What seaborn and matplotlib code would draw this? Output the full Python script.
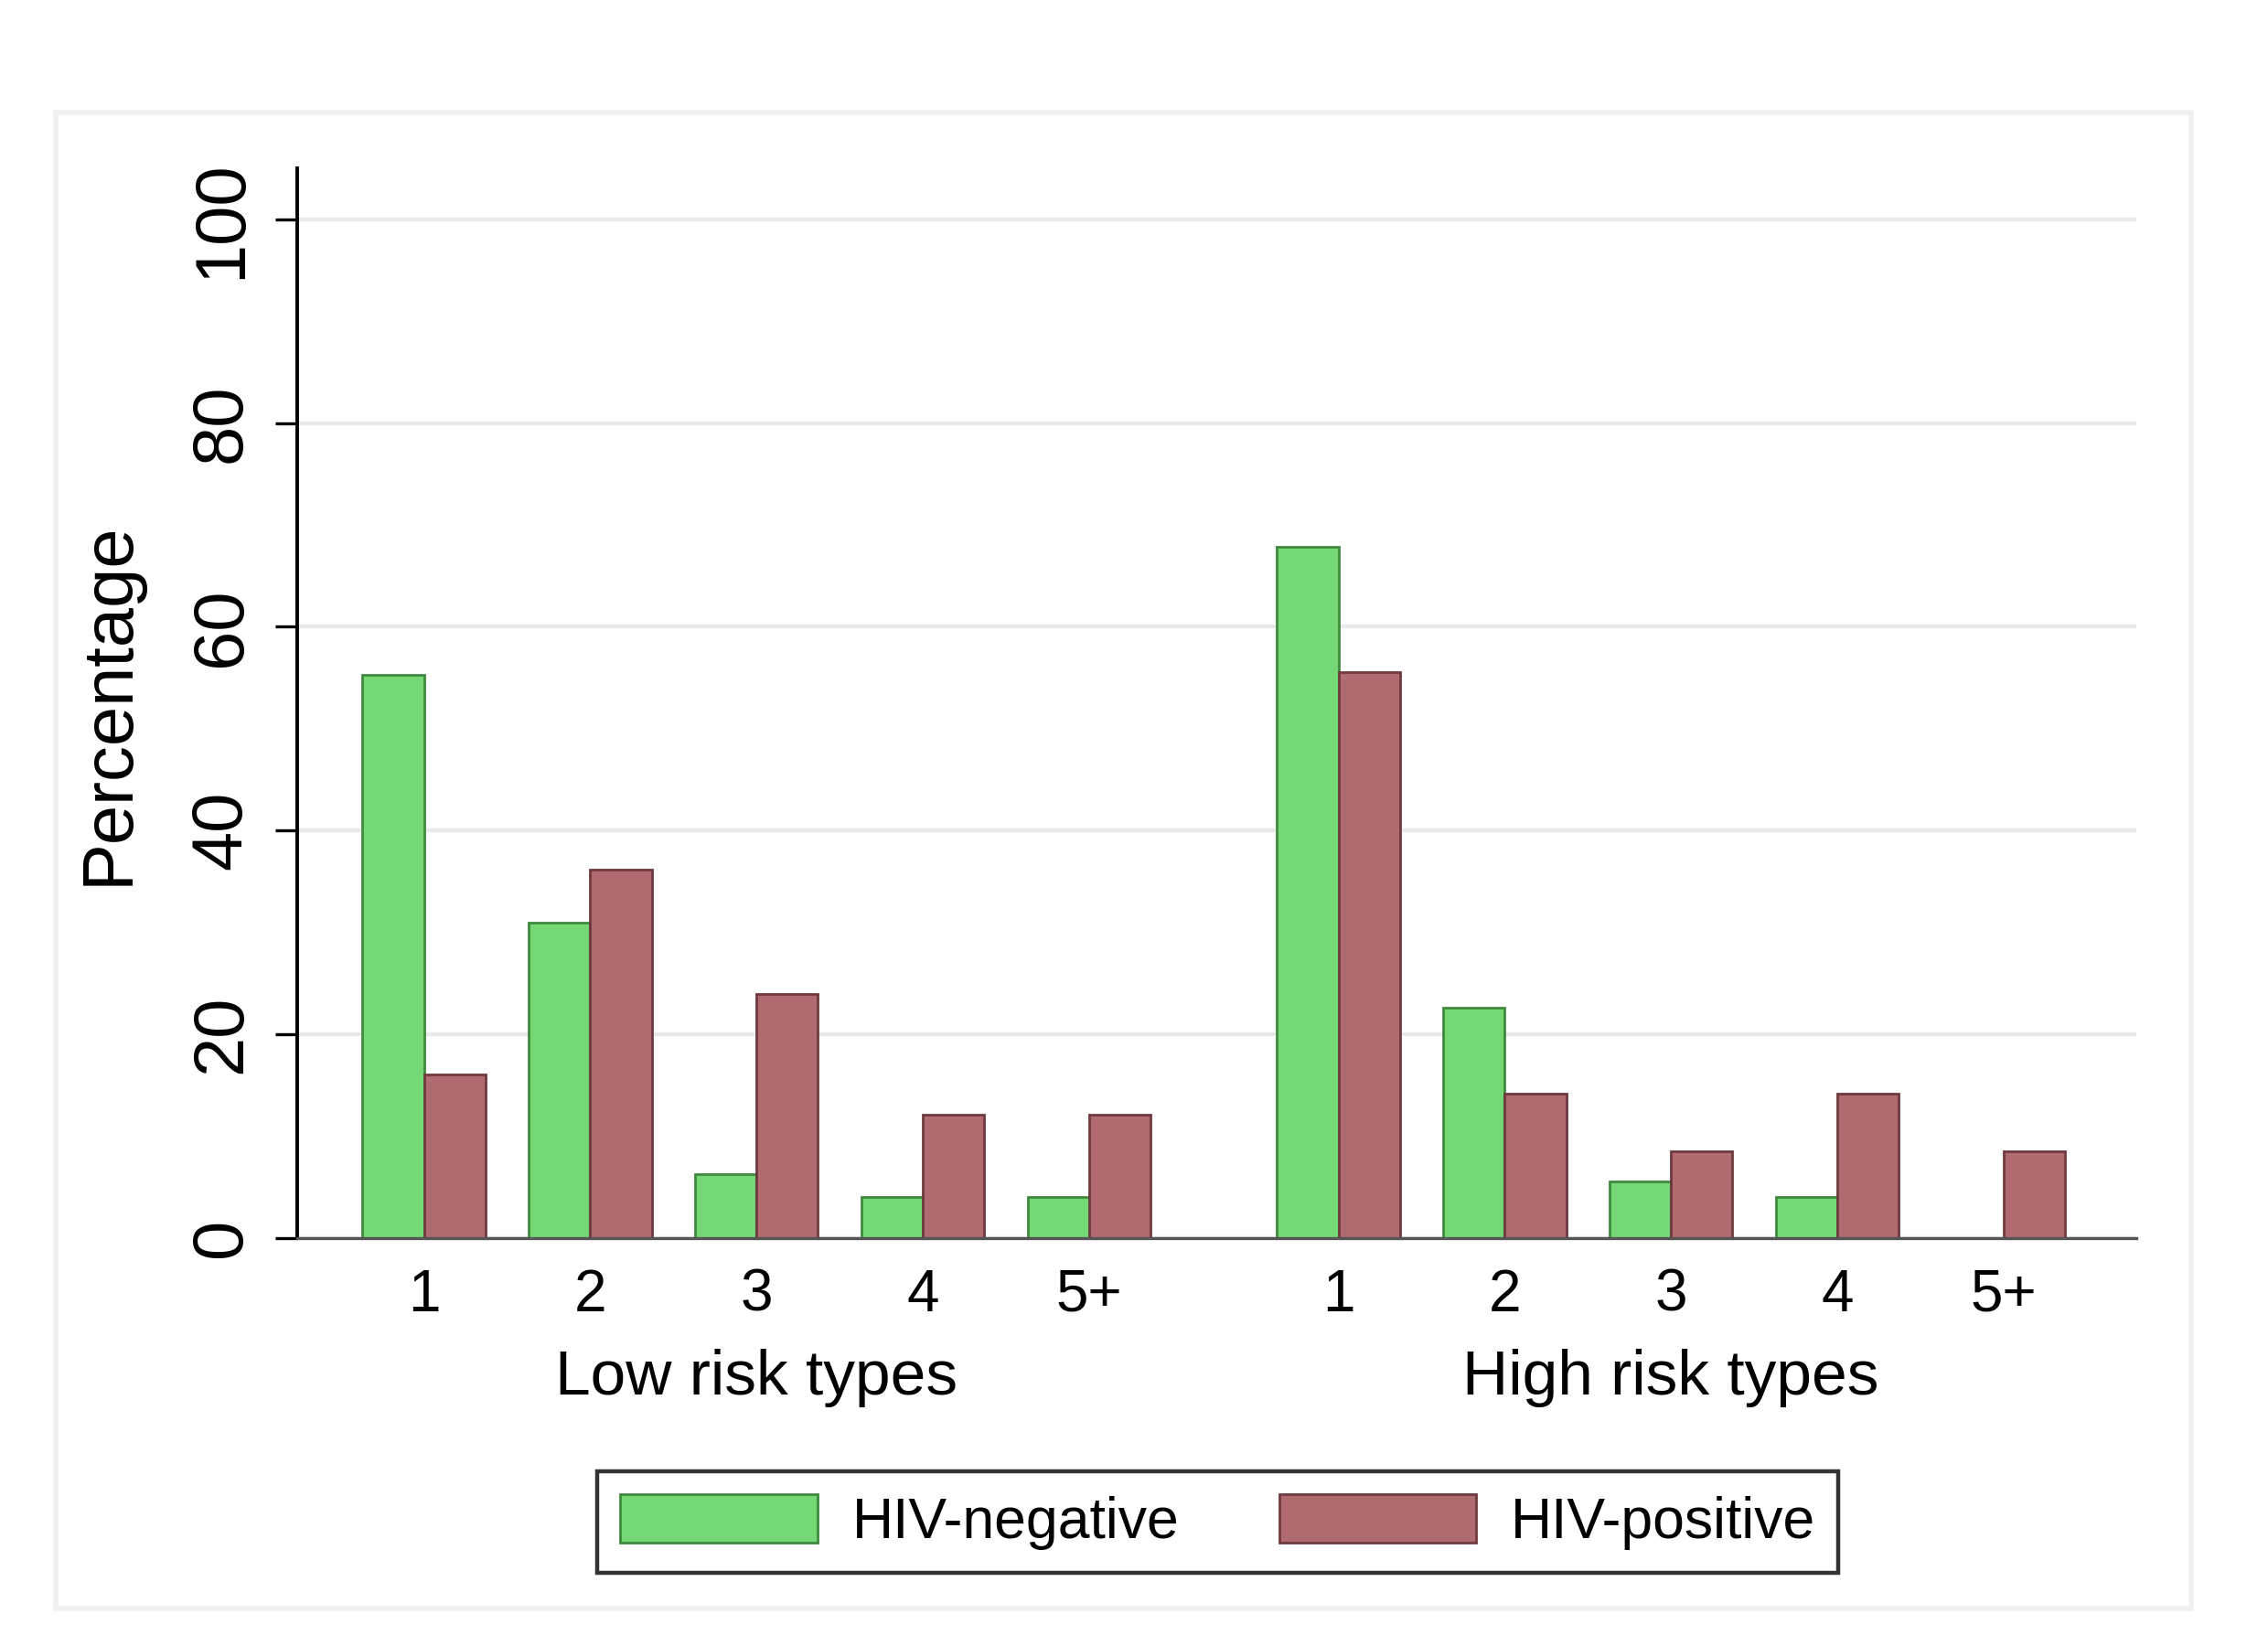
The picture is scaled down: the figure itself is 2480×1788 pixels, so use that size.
import matplotlib
matplotlib.use("Agg")
import matplotlib.pyplot as plt
import matplotlib.patches as mpatches
import matplotlib.transforms as mtrans
import seaborn as sns
import pandas as pd

# values
groups = ["Low risk types", "High risk types"]
counts = ["1", "2", "3", "4", "5+"]
status = ["HIV-negative", "HIV-positive"]

low_neg = [55.3, 30.9, 6.2, 4.0, 4.0]
low_pos = [16.0, 36.1, 23.9, 12.1, 12.1]
high_neg = [67.8, 22.6, 5.5, 4.0, 0.0]
high_pos = [55.5, 14.1, 8.5, 14.1, 8.5]

colors = ["#76d776", "#b06b70"]
edges = ["#3f8a3f", "#6e3a3e"]

# gap between the two blocks is one and a half slots
offsets = {"Low risk types": 0.0, "High risk types": 5.5}

rows = []
series = {("Low risk types", "HIV-negative"): low_neg,
          ("Low risk types", "HIV-positive"): low_pos,
          ("High risk types", "HIV-negative"): high_neg,
          ("High risk types", "HIV-positive"): high_pos}
for (g, s), vals in series.items():
    for i, v in enumerate(vals):
        rows.append({"group": g, "count": counts[i], "status": s,
                     "xpos": offsets[g] + i, "pct": v})
df = pd.DataFrame(rows)

sns.set_style("white")
plt.rcParams["font.family"] = ["Liberation Sans", "DejaVu Sans"]
plt.rcParams["text.color"] = "black"
plt.rcParams["axes.labelcolor"] = "black"
plt.rcParams["xtick.color"] = "black"
plt.rcParams["ytick.color"] = "black"

fig = plt.figure(figsize=(12.4, 8.94), dpi=200)
ax = fig.add_axes([0.131, 0.243, 0.811, 0.654])

sns.barplot(data=df, x="xpos", y="pct", hue="status", hue_order=status,
            native_scale=True, width=0.74, palette=colors, saturation=1,
            dodge=True, ax=ax, legend=True)

# darker outline per series, drop empty bars
for cont, ec in zip(ax.containers, edges):
    for p in cont:
        p.set_edgecolor(ec)
        p.set_linewidth(1.0)
        if p.get_height() == 0:
            p.set_visible(False)

ax.set_ylim(0, 105)
ax.set_xlim(-0.763, 10.3)
ax.set_yticks([0, 20, 40, 60, 80, 100])
ax.set_yticklabels(["0", "20", "40", "60", "80", "100"], rotation=90,
                   va="center", fontsize=28)
ticks = sorted(df["xpos"].unique())
ax.set_xticks(ticks)
ax.set_xticklabels(counts * 2, fontsize=23)
ax.tick_params(axis="x", length=0, pad=12)
ax.tick_params(axis="y", length=8.5, width=1.2, color="black", pad=8,
               left=True)
ax.yaxis.grid(True, color="#eaeaea", linewidth=1.6)
ax.set_axisbelow(True)

for s in ["top", "right"]:
    ax.spines[s].set_visible(False)
ax.spines["left"].set_color("black")
ax.spines["left"].set_linewidth(1.4)
ax.spines["bottom"].set_color("#555555")
ax.spines["bottom"].set_linewidth(1.2)

ax.set_xlabel("")
ax.set_ylabel("Percentage", fontsize=28, labelpad=18)

# group captions under the count labels
trans = mtrans.blended_transform_factory(ax.transData, fig.transFigure)
for g in groups:
    center = offsets[g] + (len(counts) - 1) / 2
    ax.text(center, 0.157, g, transform=trans, ha="center", va="center",
            fontsize=25)

ax.get_legend().remove()
hs = [mpatches.Patch(facecolor=c, edgecolor=e, linewidth=1.0)
      for c, e in zip(colors, edges)]
leg = ax.legend(hs, status, loc="center", bbox_to_anchor=(0.537, 0.069),
                bbox_transform=fig.transFigure, ncol=2, fontsize=22.5,
                frameon=True, fancybox=False, edgecolor="black",
                handlelength=3.45, handleheight=0.93, handletextpad=0.6,
                columnspacing=1.75, borderpad=0.4)
leg.get_frame().set_linewidth(1.6)

# faint outer frame like the graph region
frame = mpatches.Rectangle((0.0245, 0.016), 0.9415, 0.915,
                           transform=fig.transFigure, fill=False,
                           edgecolor="#f0f0f0", linewidth=2)
fig.patches.append(frame)

fig.savefig("out.png", dpi=200, facecolor="white")
